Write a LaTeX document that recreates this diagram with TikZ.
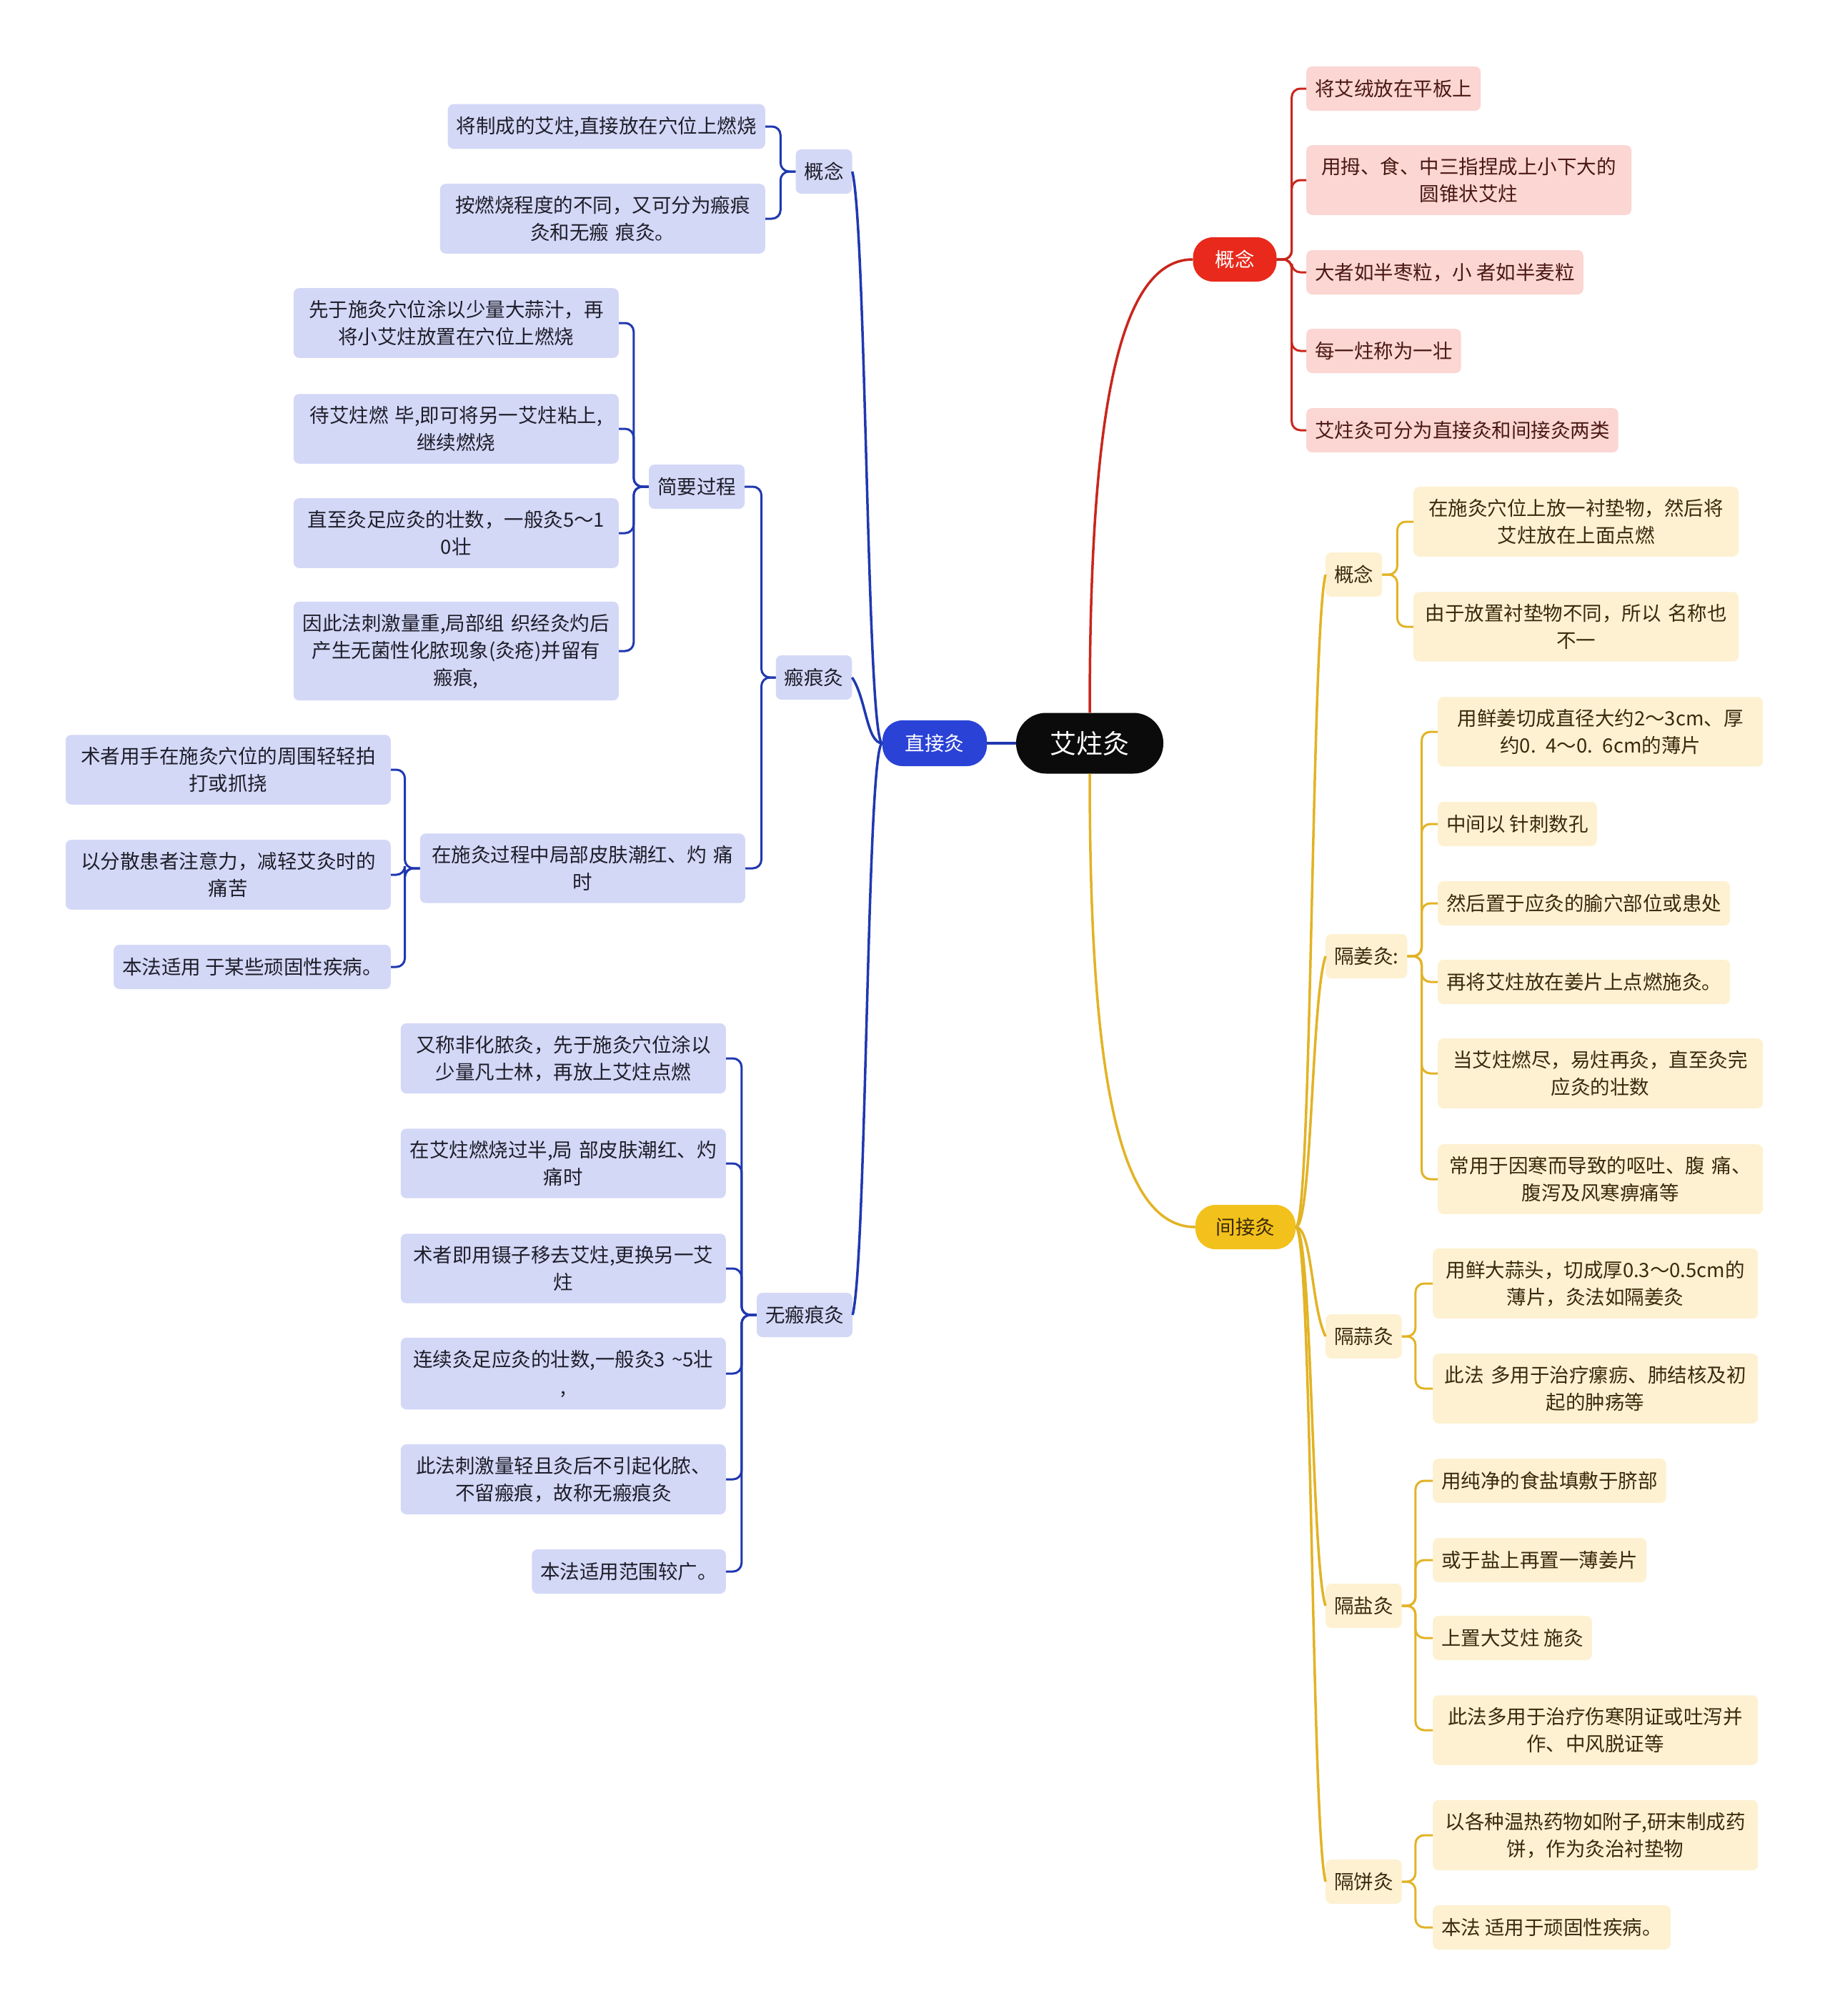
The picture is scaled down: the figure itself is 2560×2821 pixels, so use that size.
\documentclass[tikz,border=0pt]{standalone}
\usepackage{fontspec}
\newfontfamily\cjk{Noto Sans CJK SC}
\usepackage{tikz}
\usetikzlibrary{calc}
\definecolor{colorRaiz}{HTML}{0B0B0B}
\definecolor{azulRama}{HTML}{2A42D6}
\definecolor{azulLinea}{HTML}{2038B0}
\definecolor{azulHoja}{HTML}{D4D8F7}
\definecolor{azulTexto}{HTML}{1E1E2A}
\definecolor{rojoRama}{HTML}{E8291C}
\definecolor{rojoLinea}{HTML}{C9261C}
\definecolor{rosaHoja}{HTML}{FBD6D2}
\definecolor{rojoTexto}{HTML}{4A1814}
\definecolor{oroRama}{HTML}{F3C11B}
\definecolor{oroLinea}{HTML}{E2B325}
\definecolor{cremaHoja}{HTML}{FDF1D1}
\definecolor{oroTexto}{HTML}{3A2A0C}

\begin{document}
\begin{tikzpicture}[x=1pt, y=-1pt,
        raiz/.style={fill=colorRaiz, text=white, rounded corners=42pt, minimum width=206pt,
            minimum height=85pt, font=\cjk\fontsize{37}{44}\selectfont},
        rama/.style={rounded corners=28pt, minimum height=62pt, inner xsep=0pt,
            font=\cjk\fontsize{27.5}{38}\selectfont},
        hoja/.style={rounded corners=8pt, inner xsep=12pt, inner ysep=17pt, minimum height=62pt,
            align=center, font=\cjk\fontsize{27.5}{38}\selectfont},
        ancha/.style={text width=431pt},
        hAz/.style={hoja, fill=azulHoja, text=azulTexto},
        hRo/.style={hoja, fill=rosaHoja, text=rojoTexto},
        hOr/.style={hoja, fill=cremaHoja, text=oroTexto},
        lAz/.style={azulLinea, line width=3pt, rounded corners=12pt},
        lRo/.style={rojoLinea, line width=3pt, rounded corners=12pt},
        lOr/.style={oroLinea, line width=3pt, rounded corners=12pt},
        cAz/.style={azulLinea, line width=3.5pt},
        cRo/.style={rojoLinea, line width=3.5pt},
        cOr/.style={oroLinea, line width=3.5pt}
    ]
        \useasboundingbox (0,0) rectangle (2560,2821);
        \fill[white] (0,0) rectangle (2560,2821);

        % centro y ramas principales
        \node[raiz] (az) at (1525,1040) {艾炷灸};
        \node[rama, fill=azulRama, text=white, minimum width=146pt, minimum height=64pt] (dir) at (1308,1040) {直接灸};
        \node[rama, fill=rojoRama, text=white, minimum width=117pt] (rcon) at (1728,363) {概念};
        \node[rama, fill=oroRama, text=oroTexto, minimum width=140pt] (ind) at (1743,1717) {间接灸};

        % rama roja
        \node[hRo, anchor=west] (r1) at (1828,124) {将艾绒放在平板上};
        \node[hRo, ancha, anchor=west] (r2) at (1828,252) {用拇、食、中三指捏成上小下大的\\圆锥状艾炷};
        \node[hRo, anchor=west] (r3) at (1828,381) {大者如半枣粒，小 者如半麦粒};
        \node[hRo, anchor=west] (r4) at (1828,491) {每一炷称为一壮};
        \node[hRo, anchor=west] (r5) at (1828,602) {艾炷灸可分为直接灸和间接灸两类};

        % rama azul
        \node[hAz] (dcon) at (1153,240) {概念};
        \node[hAz, anchor=east] (d1) at (1071,177) {将制成的艾炷,直接放在穴位上燃烧};
        \node[hAz, ancha, anchor=east] (d2) at (1071,306) {按燃烧程度的不同，又可分为瘢痕\\灸和无瘢 痕灸。};
        \node[hAz] (cic) at (1139,948) {瘢痕灸};
        \node[hAz] (proc) at (975,681) {简要过程};
        \node[hAz, ancha, anchor=east] (p1) at (866,452) {先于施灸穴位涂以少量大蒜汁，再\\将小艾炷放置在穴位上燃烧};
        \node[hAz, ancha, anchor=east] (p2) at (866,600) {待艾炷燃 毕,即可将另一艾炷粘上,\\继续燃烧};
        \node[hAz, ancha, anchor=east] (p3) at (866,746) {直至灸足应灸的壮数，一般灸5～1\\0壮};
        \node[hAz, ancha, anchor=east] (p4) at (866,911) {因此法刺激量重,局部组 织经灸灼后\\产生无菌性化脓现象(灸疮)并留有\\瘢痕,};
        \node[hAz, ancha, anchor=east] (dol) at (1043,1215) {在施灸过程中局部皮肤潮红、灼 痛\\时};
        \node[hAz, ancha, anchor=east] (q1) at (547,1077) {术者用手在施灸穴位的周围轻轻拍\\打或抓挠};
        \node[hAz, ancha, anchor=east] (q2) at (547,1224) {以分散患者注意力，减轻艾灸时的\\痛苦};
        \node[hAz, anchor=east] (q3) at (547,1353) {本法适用 于某些顽固性疾病。};
        \node[hAz] (sinc) at (1126,1840) {无瘢痕灸};
        \node[hAz, ancha, anchor=east] (n1) at (1016,1481) {又称非化脓灸，先于施灸穴位涂以\\少量凡士林，再放上艾炷点燃};
        \node[hAz, ancha, anchor=east] (n2) at (1016,1628) {在艾炷燃烧过半,局 部皮肤潮红、灼\\痛时};
        \node[hAz, ancha, anchor=east] (n3) at (1016,1775) {术者即用镊子移去艾炷,更换另一艾\\炷};
        \node[hAz, ancha, anchor=east] (n4) at (1016,1922) {连续灸足应灸的壮数,一般灸3 \textasciitilde5壮\\,};
        \node[hAz, ancha, anchor=east] (n5) at (1016,2070) {此法刺激量轻且灸后不引起化脓、\\不留瘢痕，故称无瘢痕灸};
        \node[hAz, anchor=east] (n6) at (1016,2199) {本法适用范围较广。};

        % rama amarilla
        \node[hOr, anchor=west] (icon) at (1855,804) {概念};
        \node[hOr, ancha, anchor=west] (y1) at (1978,730) {在施灸穴位上放一衬垫物，然后将\\艾炷放在上面点燃};
        \node[hOr, ancha, anchor=west] (y2) at (1978,877) {由于放置衬垫物不同，所以 名称也\\不一};
        \node[hOr, anchor=west] (jiang) at (1855,1338) {隔姜灸:};
        \node[hOr, ancha, anchor=west] (g1) at (2012,1024) {用鲜姜切成直径大约2～3cm、厚\\约0. 4～0. 6cm的薄片};
        \node[hOr, anchor=west] (g2) at (2012,1153) {中间以 针刺数孔};
        \node[hOr, anchor=west] (g3) at (2012,1264) {然后置于应灸的腧穴部位或患处};
        \node[hOr, anchor=west] (g4) at (2012,1374) {再将艾炷放在姜片上点燃施灸。};
        \node[hOr, ancha, anchor=west] (g5) at (2012,1502) {当艾炷燃尽，易炷再灸，直至灸完\\应灸的壮数};
        \node[hOr, ancha, anchor=west] (g6) at (2012,1650) {常用于因寒而导致的呕吐、腹 痛、\\腹泻及风寒痹痛等};
        \node[hOr, anchor=west] (suan) at (1855,1870) {隔蒜灸};
        \node[hOr, ancha, anchor=west] (s1) at (2005,1796) {用鲜大蒜头，切成厚0.3～0.5cm的\\薄片，灸法如隔姜灸};
        \node[hOr, ancha, anchor=west] (s2) at (2005,1943) {此法 多用于治疗瘰疬、肺结核及初\\起的肿疡等};
        \node[hOr, anchor=west] (yan) at (1855,2247) {隔盐灸};
        \node[hOr, anchor=west] (m1) at (2005,2072) {用纯净的食盐填敷于脐部};
        \node[hOr, anchor=west] (m2) at (2005,2183) {或于盐上再置一薄姜片};
        \node[hOr, anchor=west] (m3) at (2005,2292) {上置大艾炷 施灸};
        \node[hOr, ancha, anchor=west] (m4) at (2005,2421) {此法多用于治疗伤寒阴证或吐泻并\\作、中风脱证等};
        \node[hOr, anchor=west] (bing) at (1855,2633) {隔饼灸};
        \node[hOr, ancha, anchor=west] (b1) at (2005,2568) {以各种温热药物如附子,研末制成药\\饼，作为灸治衬垫物};
        \node[hOr, anchor=west] (b2) at (2005,2697) {本法 适用于顽固性疾病。};

        % conectores principales
        \draw[cAz] (az.west) -- (dir.east);
        \draw[cRo] (az.north) .. controls +(0,-398) and +(-109,0) .. (rcon.west);
        \draw[cOr] (az.south) .. controls +(0,398) and +(-113,0) .. (ind.west);
        \foreach \h/\k in {dcon/80, cic/30, sinc/-80}
            \draw[cAz] (dir.west) .. controls +(-22,0) and +(20,\k) .. (\h.east);
        \foreach \h/\k in {icon/80, jiang/60, suan/-40, yan/-60, bing/-80}
            \draw[cOr] (ind.east) .. controls +(23,0) and +(-20,\k) .. (\h.west);

        % llaves
        \foreach \h in {r1,r2,r3,r4,r5}
            \draw[lRo] (rcon.east) -- ++(21,0) |- (\h.west);
        \foreach \h in {d1,d2}
            \draw[lAz] (dcon.west) -- ++(-21,0) |- (\h.east);
        \foreach \h in {proc,dol}
            \draw[lAz] (cic.west) -- ++(-20,0) |- (\h.east);
        \foreach \h in {p1,p2,p3,p4}
            \draw[lAz] (proc.west) -- ++(-21,0) |- (\h.east);
        \foreach \h in {q1,q2,q3}
            \draw[lAz] (dol.west) -- ++(-21,0) |- (\h.east);
        \foreach \h in {n1,n2,n3,n4,n5,n6}
            \draw[lAz] (sinc.west) -- ++(-21,0) |- (\h.east);
        \foreach \h in {y1,y2}
            \draw[lOr] (icon.east) -- ++(21,0) |- (\h.west);
        \foreach \h in {g1,g2,g3,g4,g5,g6}
            \draw[lOr] (jiang.east) -- ++(20,0) |- (\h.west);
        \foreach \h in {s1,s2}
            \draw[lOr] (suan.east) -- ++(19,0) |- (\h.west);
        \foreach \h in {m1,m2,m3,m4}
            \draw[lOr] (yan.east) -- ++(19,0) |- (\h.west);
        \foreach \h in {b1,b2}
            \draw[lOr] (bing.east) -- ++(19,0) |- (\h.west);
    \end{tikzpicture}
\end{document}
